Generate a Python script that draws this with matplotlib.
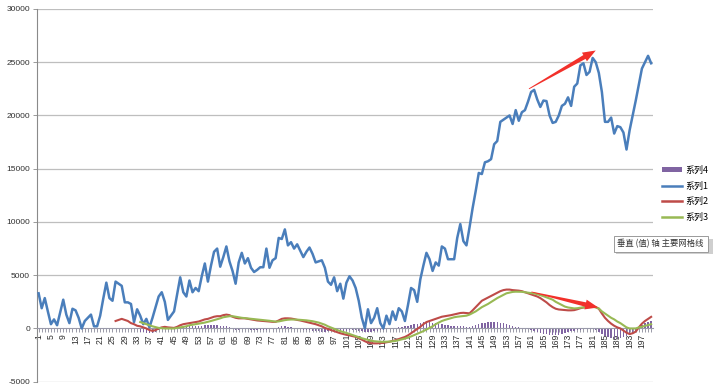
import numpy as np
import matplotlib
matplotlib.use("Agg")
import matplotlib.pyplot as plt
from matplotlib.patches import Polygon, Patch, Rectangle
from matplotlib.lines import Line2D
from matplotlib.transforms import IdentityTransform

plt.rcParams['font.family'] = ['Noto Sans CJK SC', 'DejaVu Sans']

nan = np.nan
categories = list(range(1, 201))
tick_labels = [str(c) for c in range(1, 201, 4)]

series1 = [
    3300, 1900, 2850, 1600, 400, 850, 300, 1500, 2700, 1300,
    500, 1850, 1700, 1000, 0, 700, 1000, 1300, 200, 200,
    1200, 2800, 4300, 2850, 2600, 4400, 4200, 4000, 2450, 2450,
    2300, 600, 1800, 1200, 400, 900, 100, 1000, 2000, 3000,
    3400, 2500, 800, 1200, 1600, 3200, 4800, 3400, 3000, 4500,
    3400, 3800, 3500, 4900, 6100, 4400, 5900, 7200, 7500, 5800,
    6700, 7700, 6300, 5400, 4200, 6200, 7100, 6100, 6600, 5700,
    5300, 5500, 5750, 5750, 7500, 5700, 6400, 6600, 8500, 8400,
    9300, 7800, 8100, 7500, 7900, 7300, 6700, 7200, 7600, 7000,
    6200, 6300, 6400, 5700, 4400, 4100, 4800, 3500, 4200, 2800,
    4300, 4900, 4500, 3800, 2600, 1000, 0, 1800, 500, 1000,
    1900, 500, 0, 1200, 400, 1600, 800, 1900, 1600, 700,
    2200, 3800, 3600, 2500, 4600, 5900, 7100, 6500, 5400, 6200,
    5900, 7700, 7500, 6500, 6500, 6500, 8500, 9800, 8200, 7800,
    9500, 11300, 12900, 14600, 14500, 15600, 15700, 15900, 17300, 17600,
    19400, 19600, 19800, 20000, 19200, 20500, 19500, 20300, 20500, 21300,
    22200, 22400, 21500, 20800, 21400, 21350, 20000, 19300, 19400, 20000,
    20900, 21100, 21700, 20900, 22700, 23000, 24700, 24900, 23800, 24100,
    25400, 25000, 24000, 22200, 19400, 19400, 19800, 18300, 19000, 18900,
    18400, 16800, 18600, 20000, 21400, 22900, 24400, 25000, 25600, 24900,
]

series2 = [nan] * 25 + [
    700, 800, 900, 800, 700,
    500, 400, 250, 200, 100, 0, -150, -230, -150, 0,
    100, 150, 100, 80, 50, 150, 300, 400, 450, 500,
    550, 600, 650, 750, 850, 900, 1000, 1100, 1150, 1150,
    1250, 1300, 1250, 1100, 1000, 950, 950, 950, 900, 850,
    800, 750, 720, 700, 680, 650, 620, 620, 750, 900,
    950, 950, 930, 880, 800, 750, 680, 620, 550, 480,
    400, 300, 200, 50, -50, -150, -250, -350, -450, -530,
    -600, -650, -720, -790, -900, -1050, -1200, -1330, -1380, -1400,
    -1400, -1380, -1350, -1300, -1250, -1180, -1100, -1000, -900, -800,
    -650, -450, -250, -50, 150, 400, 600, 700, 800, 900,
    1000, 1100, 1150, 1200, 1250, 1320, 1400, 1450, 1470, 1450,
    1420, 1700, 2000, 2300, 2600, 2750, 2900, 3050, 3200, 3350,
    3500, 3600, 3650, 3650, 3600, 3580, 3550, 3500, 3400, 3300,
    3200, 3100, 3000, 2850, 2650, 2450, 2200, 2000, 1850, 1780,
    1750, 1720, 1700, 1700, 1720, 1800, 1900, 1970, 2020, 2070,
    2090, 2000, 1850, 1400, 1000, 700, 450, 250, 100, 0,
    -200, -400, -530, -450, -300, 100, 450, 700, 900, 1090,
]

series3 = [nan] * 33 + [
    600, 500, 400, 300, 200, 120, 50,
    20, 0, 0, 0, 0, 50, 100, 150, 200, 300,
    350, 400, 450, 500, 550, 620, 700, 780, 850, 950,
    1050, 1100, 1150, 1150, 1100, 1050, 1000, 970, 940, 920,
    880, 850, 820, 800, 760, 720, 680, 640, 660, 720,
    780, 820, 840, 840, 830, 810, 790, 760, 720, 680,
    620, 550, 450, 350, 200, 80, -50, -150, -250, -330,
    -420, -520, -620, -720, -820, -920, -1000, -1080, -1150, -1200,
    -1230, -1250, -1260, -1250, -1230, -1200, -1170, -1100, -1020, -950,
    -850, -750, -620, -500, -380, -250, -100, 50, 200, 400,
    550, 700, 800, 880, 950, 1050, 1100, 1130, 1170, 1200,
    1300, 1450, 1600, 1800, 2000, 2150, 2300, 2480, 2650, 2850,
    3000, 3150, 3300, 3370, 3430, 3450, 3450, 3440, 3400, 3370,
    3330, 3280, 3220, 3130, 3030, 2920, 2810, 2700, 2500, 2350,
    2200, 2050, 1970, 1920, 1880, 1900, 1950, 1970, 2000, 2020,
    2030, 1980, 1880, 1600, 1400, 1200, 1000, 850, 650, 500,
    300, 100, 0, 0, 0, 100, 150, 250, 310, 400,
]

series4 = [nan] * 33 + [
    -300, -350, -400, -420, -400, -300, -100,
    100, 150, 100, 80, 50,
    100, 150, 200, 200, 200, 200, 200, 200, 250, 300, 300, 300, 350, 300, 250, 250, 250,
    100, -50, -100, -100, -50, -50, -50, -100, -100, -100, -100, -100, -100, -80, -50, -20,
    100, 200, 200, 150, 100, 50, -30, -50, -100, -150, -150, -200,
    -200, -250, -300, -300, -250, -250, -200, -200, -200, -200,
    -200, -150, -150, -150, -200, -250, -300, -300, -300, -250,
    -200, -150, -100, -80, -50, 20, 70, 100, 150, 200,
    250, 350, 400, 450, 550, 600, 650,
    600, 550, 500, 450, 400, 350, 300, 250, 250, 250, 250, 200, 150, 100,
    200, 300, 400, 500, 550, 600, 600, 600, 600, 550, 500, 400, 300, 200, 150, 100, 50, 0, -50,
    -150, -200, -300, -400, -500, -550, -600, -650, -650, -600, -500, -400, -300, -250, -200,
    -150, -100, -50, 0, 50, 50,
    -100, -300, -500, -700, -800, -900, -1000, -1000, -900, -800, -700, -600, -400, -200,
    100, 300, 500, 600, 700,
]

series_names = ['系列1', '系列2', '系列3', '系列4']
y_ticks = list(range(-5000, 30001, 5000))
tooltip_text = '垂直 (值) 轴 主要网格线'

# annotation arrows (data coordinates: category, value)
arrow_up = ((160.3, 22500), (182.0, 26100))
arrow_down = ((161.1, 3430), (182.8, 1970))

assert len(series1) == 200 and len(series2) == 200 and len(series3) == 200 and len(series4) == 200

C1, C2, C3, C4 = '#4A7EBB', '#BE4B48', '#98B954', '#8064A2'

fig = plt.figure(figsize=(7.2, 3.9), dpi=100)
ax = fig.add_axes([0.0515, 0.0213, 0.855, 0.9557])

# spines first (repositioning a spine resets tick properties)
ax.spines['top'].set_visible(False)
ax.spines['right'].set_visible(False)
ax.spines['bottom'].set_position(('data', 0))
ax.spines['bottom'].set_color('#9A9AAA')
ax.spines['left'].set_color('#8A8A8A')
ax.spines['left'].set_linewidth(0.8)
ax.spines['bottom'].set_linewidth(0.8)

x = np.array(categories)
ax.bar(x, series4, width=0.45, color=C4, zorder=2, linewidth=0)
ax.plot(x, series1, color=C1, lw=1.8, zorder=4, solid_joinstyle='round')
ax.plot(x, series2, color=C2, lw=1.5, zorder=4, solid_joinstyle='round')
ax.plot(x, series3, color=C3, lw=1.5, zorder=4, solid_joinstyle='round')

ax.set_xlim(0.5, 200.5)
ax.set_ylim(-5000, 30000)

ax.tick_params(axis='x', which='both', direction='out', length=3, width=0.6,
               color='#8A8A9A', pad=1)
ax.tick_params(axis='y', direction='out', length=3, width=0.6, color='#8A8A8A', pad=2)

ax.set_yticks(y_ticks)
ax.set_yticklabels([str(v) for v in y_ticks], fontsize=6, color='#303030',
                   family=['Liberation Sans', 'DejaVu Sans'])
for v in y_ticks:
    if v != 0:
        ax.axhline(v, color='#BEBEBE', lw=0.9, zorder=1)

ax.set_xticks(categories, minor=True)
ax.set_xticks(list(range(1, 201, 4)))
ax.set_xticklabels(tick_labels, rotation=90, fontsize=6.2, color='#303030',
                   family=['Liberation Sans', 'DejaVu Sans'])


def draw_arrow(tail, tip):
    p0 = ax.transData.transform(tail)
    p1 = ax.transData.transform(tip)
    d = p1 - p0
    L = np.hypot(*d)
    u = d / L
    n = np.array([-u[1], u[0]])
    head_len, head_hw, shaft_hw, tail_hw = 13.0, 5.0, 2.2, 0.4
    b = p1 - u * head_len
    pts = [p0 + n * tail_hw, b + n * shaft_hw, b + n * head_hw, p1,
           b - n * head_hw, b - n * shaft_hw, p0 - n * tail_hw]
    poly = Polygon(pts, closed=True, transform=IdentityTransform(),
                   facecolor='#F2302A', edgecolor='none', zorder=10)
    fig.add_artist(poly)


draw_arrow(*arrow_up)
draw_arrow(*arrow_down)

handles = [Patch(facecolor=C4, edgecolor='none'),
           Line2D([], [], color=C1, lw=1.8),
           Line2D([], [], color=C2, lw=1.8),
           Line2D([], [], color=C3, lw=1.8)]
labels = [series_names[3], series_names[0], series_names[1], series_names[2]]
fig.legend(handles, labels, loc='upper left', bbox_to_anchor=(0.915, 0.585),
           frameon=False, fontsize=6.5, handlelength=2.2, handleheight=0.5,
           labelspacing=0.75, handletextpad=0.3, borderaxespad=0)

# tooltip box with a soft shadow
fig.add_artist(Rectangle((0.856, 0.350), 0.134, 0.037, transform=fig.transFigure,
                         facecolor='#CFCFCF', edgecolor='none', zorder=19))
fig.text(0.9175, 0.3745, tooltip_text, ha='center', va='center', fontsize=6,
         color='#333333',
         bbox=dict(boxstyle='square,pad=0.45', facecolor='white',
                   edgecolor='#9A9A9A', linewidth=0.7), zorder=20)

fig.savefig('out.png', dpi=100)
